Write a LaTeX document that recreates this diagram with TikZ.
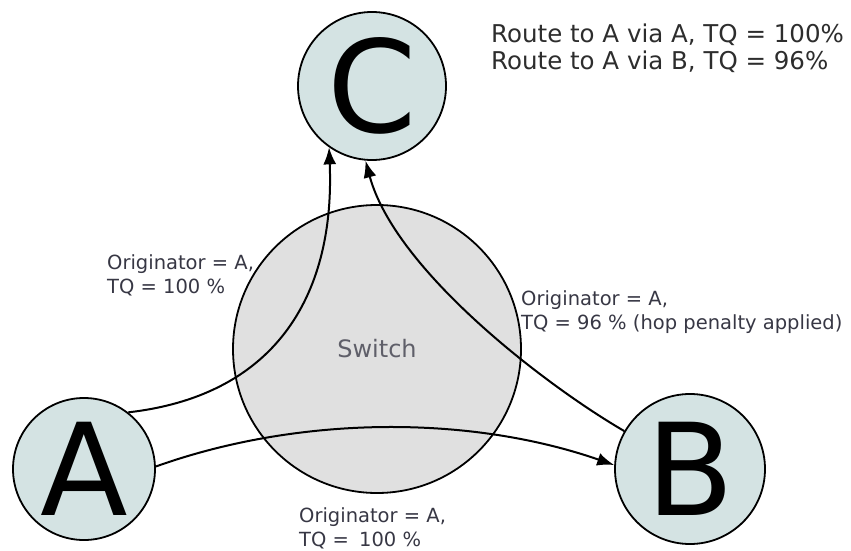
\documentclass[tikz,border=0pt]{standalone}
\usepackage{fontspec}
\setmainfont{DejaVu Sans}
\usetikzlibrary{arrows.meta}
\definecolor{peerfill}{RGB}{212,227,227}
\definecolor{switchfill}{RGB}{224,224,224}
\definecolor{labelgrey}{RGB}{55,55,68}
\definecolor{notegrey}{RGB}{45,45,45}
\begin{document}
\begin{tikzpicture}[x=1pt,y=-1pt,
  peer/.style={circle,draw=black,line width=1.8pt,fill=peerfill,inner sep=0pt,
    minimum size=146pt,font=\fontsize{128}{128}\selectfont},
  hub/.style={circle,draw=black,line width=1.8pt,fill=switchfill,inner sep=0pt,
    minimum size=288pt,text=labelgrey!80,font=\fontsize{24}{28}\selectfont},
  link/.style={line width=2pt,-{Latex[length=17pt,width=13pt]}},
  lbl/.style={anchor=north west,inner sep=0pt,align=left,text=labelgrey,
    font=\fontsize{19.5}{24}\selectfont},
  note/.style={anchor=north west,inner sep=0pt,align=left,text=notegrey,
    font=\fontsize{24.5}{27}\selectfont}]
\useasboundingbox (0,0) rectangle (851,551);

% switch in the middle, peers around it
\node[hub] (S) at (377,349) {Switch};
\node[peer,minimum size=148pt] (C) at (372,86) {C};
\node[peer,minimum size=142pt] (A) at (84,469) {A};
\node[peer,minimum size=150pt] (B) at (690,469) {B};

% route announcements
\draw[link] (A.52) .. controls (280,395) and (335,290) .. (C.235);
\draw[link] (B.150) .. controls (545,385) and (395,270) .. (C.265);
\draw[link] (A.2) .. controls (300,415) and (470,415) .. (B.177);

% labels
\node[lbl] (lac) at (107,254) {Originator = A,\\TQ = 100 \%};
\node[lbl] (lbc) at (521,290) {Originator = A,\\TQ = 96 \% (hop penalty applied)};
\node[lbl] (lab) at (299,507) {Originator = A,\\TQ = \hspace{4pt}100 \%};
\node[note] (routes) at (491,24) {Route to A via A, TQ = 100\%\\Route to A via B, TQ = 96\%};
\end{tikzpicture}
\end{document}
